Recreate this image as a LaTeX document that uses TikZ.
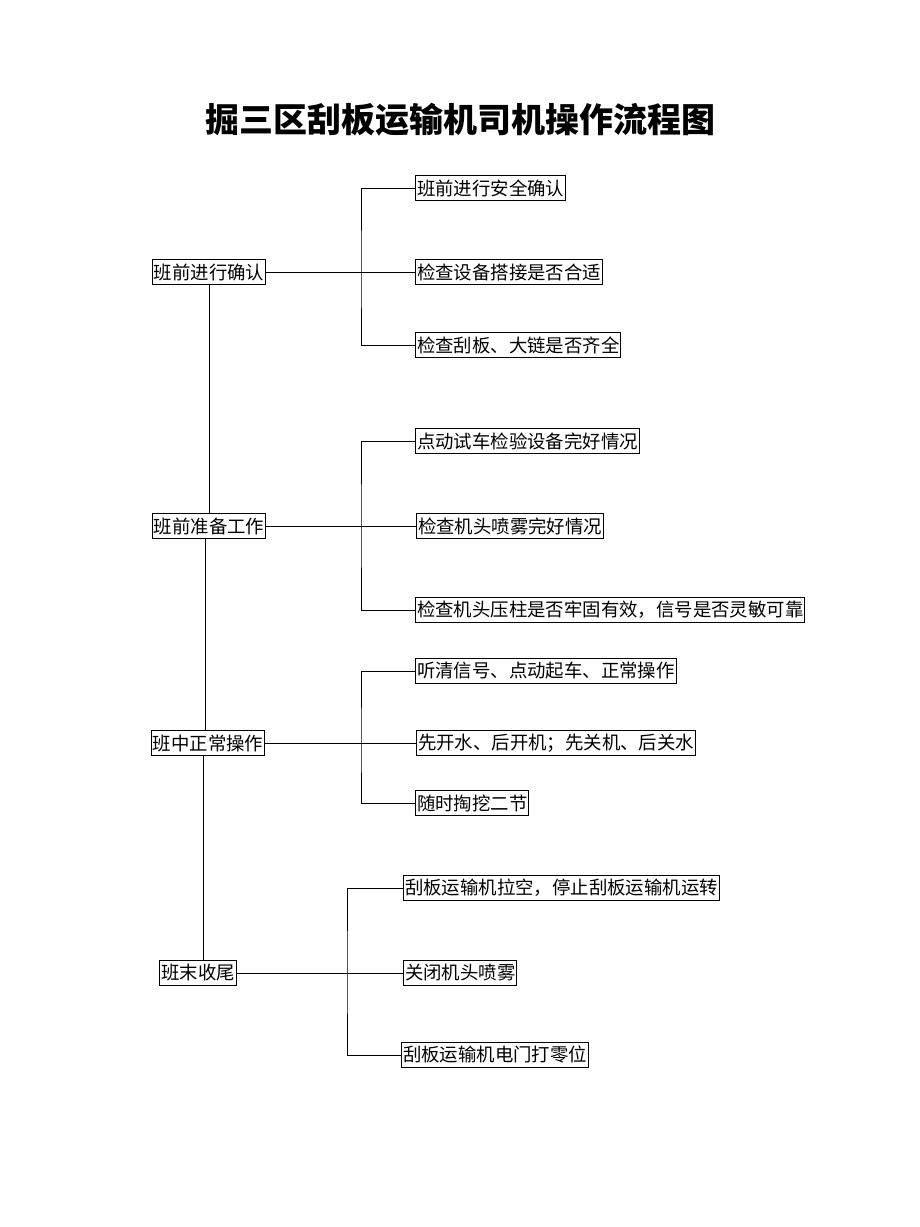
\documentclass[tikz,border=0pt]{standalone}
\usepackage{fontspec}
\newfontfamily\cjk{Noto Sans CJK SC}
\usepackage{tikz}

\begin{document}
\begin{tikzpicture}[x=1pt,y=-1pt,
	box/.style={draw=black,line width=1pt,inner sep=1.5pt,minimum height=25pt,font=\cjk\fontsize{18.4}{18.4}\selectfont},
	item/.style={box,anchor=west},
	link/.style={line width=1pt}]
						\useasboundingbox (0,0) rectangle (920,1227);
						\node[font=\cjk\bfseries\fontsize{34}{34}\selectfont] (title) at (460,120) {掘三区刮板运输机司机操作流程图};
						% main steps
						\node[box] (sa) at (209,272) {班前进行确认};
						\node[box] (sb) at (209,526) {班前准备工作};
						\node[box] (sc) at (208,743) {班中正常操作};
						\node[box] (sd) at (198,973) {班末收尾};
						\draw[link] (sa.south) -- (sb.north);
						\draw[link] ([xshift=-4pt]sb.south) -- ([xshift=-4pt]sb.south |- sc.north);
						\draw[link] ([xshift=-5pt]sc.south) -- ([xshift=-5pt]sc.south |- sd.north);
						% sub steps
						\node[item] (a1) at (415,188) {班前进行安全确认};
						\node[item] (a2) at (415,272) {检查设备搭接是否合适};
						\node[item] (a3) at (415,345) {检查刮板、大链是否齐全};
						\node[item] (b1) at (415,441) {点动试车检验设备完好情况};
						\node[item] (b2) at (416,526) {检查机头喷雾完好情况};
						\node[item] (b3) at (415,610) {检查机头压柱是否牢固有效，信号是否灵敏可靠};
						\node[item] (c1) at (415,671) {听清信号、点动起车、正常操作};
						\node[item] (c2) at (416,743) {先开水、后开机；先关机、后关水};
						\node[item] (c3) at (415,803) {随时掏挖二节};
						\node[item] (d1) at (403,888) {刮板运输机拉空，停止刮板运输机运转};
						\node[item] (d2) at (403,973) {关闭机头喷雾};
						\node[item] (d3) at (401,1055) {刮板运输机电门打零位};
						% brackets
						\coordinate (ka) at (361,272);
						\coordinate (kb) at (361,526);
						\coordinate (kc) at (361,743);
						\coordinate (kd) at (347,973);
						\foreach \g in {a,b,c,d}{
						\draw[link] (s\g.east) -- (\g2.west);
						\draw[link] (\g1.west) -| (k\g) |- (\g3.west);
						}
					\end{tikzpicture}
\end{document}
